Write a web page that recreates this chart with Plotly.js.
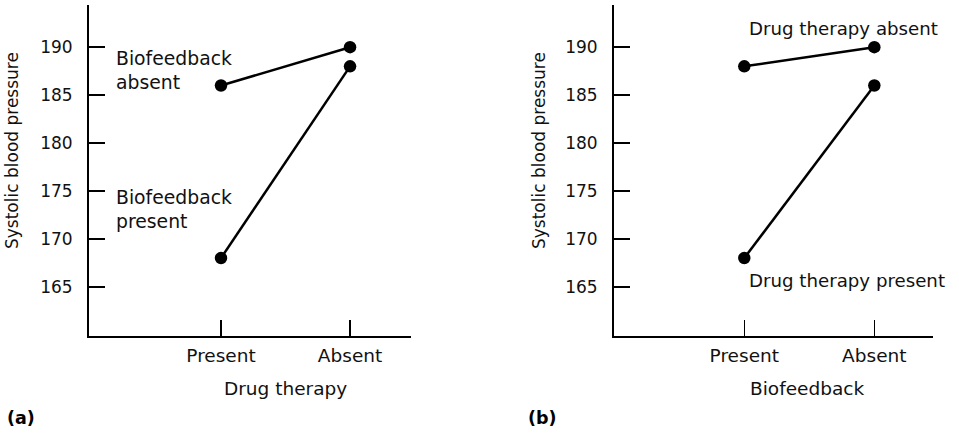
<!DOCTYPE html>
<html>
<head>
<meta charset="utf-8">
<script src="https://cdn.plot.ly/plotly-3.0.1.min.js"></script>
<style>html,body{margin:0;padding:0;background:#fff}</style>
</head>
<body>
<div id="chart" style="width:959px;height:435px"></div>
<script>
// Factor levels shown on both x axes
const levels = ["Present", "Absent"];

// (a) mean systolic pressure by drug therapy, one line per biofeedback level
const bioAbsentByDrug = [186, 190];
const bioPresentByDrug = [168, 188];

// (b) mean systolic pressure by biofeedback, one line per drug therapy level
const drugAbsentByBio = [188, 190];
const drugPresentByBio = [168, 186];

const yTickValues = [165, 170, 175, 180, 185, 190];

const W = 959, H = 435;
const fx = x => x / W;
const fy = y => 1 - y / H;
const FONT = "DejaVu Sans";

function series(values, xa, ya) {
  return {
    x: levels, y: values, xaxis: xa, yaxis: ya,
    type: "scatter", mode: "lines+markers",
    line: {color: "#000", width: 2.5},
    marker: {color: "#000", size: 12.5},
    hoverinfo: "x+y", showlegend: false
  };
}

const traces = [
  series(bioAbsentByDrug, "x", "y"),
  series(bioPresentByDrug, "x", "y"),
  series(drugAbsentByBio, "x2", "y2"),
  series(drugPresentByBio, "x2", "y2")
];

function xAxis(domain, range, anchor) {
  return {
    domain: domain, range: range, type: "category", anchor: anchor,
    showline: true, linecolor: "#000", linewidth: 2,
    ticks: "inside", ticklen: 16, tickwidth: 1.5, tickcolor: "#000",
    tickfont: {family: FONT, size: 18.5, color: "#111"},
    ticklabelstandoff: 2,
    showgrid: false, zeroline: false, fixedrange: true
  };
}
function yAxis(domain, anchor) {
  return {
    domain: domain, range: [159.9, 194.4], anchor: anchor,
    tickmode: "array", tickvals: yTickValues,
    showline: true, linecolor: "#000", linewidth: 2,
    ticks: "inside", ticklen: 16, tickwidth: 1.5, tickcolor: "#000",
    tickfont: {family: FONT, size: 17, color: "#111"},
    ticklabelstandoff: 11,
    showgrid: false, zeroline: false, fixedrange: true
  };
}

function note(text, x, y, opts) {
  return Object.assign({
    text: text, xref: "paper", yref: "paper", x: fx(x), y: fy(y),
    xanchor: "left", yanchor: "middle", showarrow: false, align: "left",
    font: {family: FONT, size: 18.8, color: "#111"}
  }, opts || {});
}

const titleFont = {family: FONT, size: 17, color: "#111"};
const letterFont = {family: FONT, size: 17.5, color: "#000"};

const annotations = [
  // line labels
  note("Biofeedback<br>absent", 114, 71),
  note("Biofeedback<br>present", 114, 209.5),
  note("Drug therapy absent", 747, 28, {font: {family: FONT, size: 18.2, color: "#111"}}),
  note("Drug therapy present", 747, 280, {font: {family: FONT, size: 18.2, color: "#111"}}),
  // axis titles
  note("Drug therapy", 285.5, 388, {xanchor: "center", font: {family: FONT, size: 18.5, color: "#111"}}),
  note("Biofeedback", 807, 388, {xanchor: "center", font: {family: FONT, size: 18.5, color: "#111"}}),
  note("Systolic blood pressure", 12, 151, {xanchor: "center", textangle: -90, font: titleFont}),
  note("Systolic blood pressure", 539, 151, {xanchor: "center", textangle: -90, font: titleFont}),
  // panel letters
  note("<b>(a)</b>", 5, 418, {font: letterFont}),
  note("<b>(b)</b>", 526, 418, {font: letterFont})
];

const layout = {
  width: W, height: H,
  margin: {l: 0, r: 0, t: 0, b: 0},
  paper_bgcolor: "#fff", plot_bgcolor: "#fff",
  xaxis: xAxis([fx(89), fx(410.7)], [-1.023, 1.47], "y"),
  yaxis: yAxis([fy(335.7), fy(5)], "x"),
  xaxis2: xAxis([fx(614), fx(932.7)], [-1.002, 1.449], "y2"),
  yaxis2: yAxis([fy(335.7), fy(5)], "x2"),
  annotations: annotations
};

Plotly.newPlot("chart", traces, layout, {displayModeBar: false, staticPlot: true});
</script>
</body>
</html>
